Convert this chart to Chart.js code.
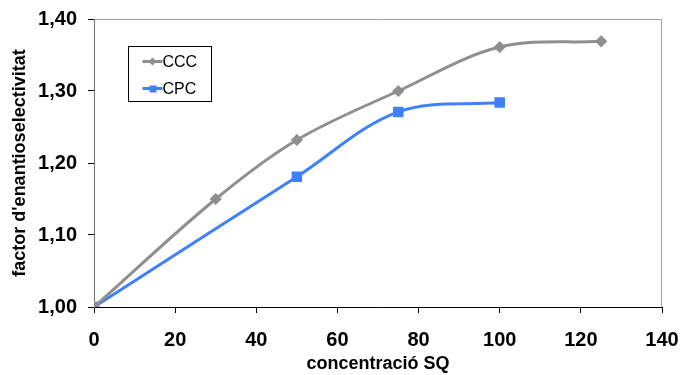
<!DOCTYPE html>
<html><head><meta charset="utf-8">
<script src="https://cdn.jsdelivr.net/npm/chart.js@4.4.0/dist/chart.umd.min.js"></script>
<style>html,body{margin:0;padding:0;background:#fff;}#wrap{width:684px;height:375px;position:relative;}</style>
</head><body><div id="wrap"><canvas id="c" width="684" height="375"></canvas></div>
<script>
const seriesNames = ["CCC", "CPC"];
const cccX = [0, 30, 50, 75, 100, 125];
const cccY = [1.00, 1.15, 1.232, 1.30, 1.361, 1.369];
const cpcX = [0, 50, 75, 100];
const cpcY = [1.00, 1.181, 1.271, 1.284];
const xTicks = [0, 20, 40, 60, 80, 100, 120, 140];
const yTicks = [1.00, 1.10, 1.20, 1.30, 1.40];
const xTitle = "concentració SQ";
const yTitle = "factor d'enantioselectivitat";

const toPts = (xs, ys) => xs.map((x, i) => ({x: x, y: ys[i]}));

const frame = {
  id: 'frame',
  beforeDatasetsDraw(chart) {
    const {ctx, chartArea: a} = chart;
    ctx.save();
    ctx.strokeStyle = '#a0a0a0';
    ctx.lineWidth = 1;
    ctx.beginPath();
    ctx.moveTo(a.left, a.top + 0.5);
    ctx.lineTo(a.right - 0.5, a.top + 0.5);
    ctx.lineTo(a.right - 0.5, a.bottom);
    ctx.stroke();
    ctx.restore();
  }
};

const legendBox = {
  id: 'legendBox',
  afterDraw(chart) {
    const ctx = chart.ctx;
    const bx = 128.5, by = 46.5, bw = 83, bh = 55;
    ctx.save();
    ctx.fillStyle = '#fff';
    ctx.fillRect(bx, by, bw, bh);
    ctx.strokeStyle = '#000';
    ctx.lineWidth = 1;
    ctx.strokeRect(bx, by, bw, bh);
    ctx.font = '16px "Liberation Sans", Arial, sans-serif';
    ctx.textBaseline = 'middle';
    chart.data.datasets.forEach((ds, i) => {
      const y = by + 15 + i * 27;
      ctx.strokeStyle = ds.borderColor;
      ctx.lineWidth = 3;
      ctx.beginPath();
      ctx.moveTo(bx + 14, y);
      ctx.lineTo(bx + 34, y);
      ctx.stroke();
      ctx.fillStyle = ds.borderColor;
      if (ds.pointStyle === 'rectRot') {
        ctx.beginPath();
        ctx.moveTo(bx + 24, y - 4); ctx.lineTo(bx + 28, y); ctx.lineTo(bx + 24, y + 4); ctx.lineTo(bx + 20, y);
        ctx.closePath(); ctx.fill();
      } else {
        ctx.fillRect(bx + 21, y - 3, 7, 7);
      }
      ctx.fillStyle = '#000';
      ctx.fillText(ds.label, bx + 34, y + 1);
    });
    ctx.restore();
  }
};

new Chart(document.getElementById('c'), {
  type: 'scatter',
  data: {
    datasets: [
      { label: seriesNames[0], data: toPts(cccX, cccY), showLine: true, borderColor: '#8f8f8f', backgroundColor: '#8f8f8f',
        borderWidth: 3, pointStyle: 'rectRot', pointRadius: 4, pointHoverRadius: 4, tension: 0.35 },
      { label: seriesNames[1], data: toPts(cpcX, cpcY), showLine: true, borderColor: '#3f80ff', backgroundColor: '#3f80ff',
        borderWidth: 3, pointStyle: 'rect', pointRadius: 5.3, pointHoverRadius: 5.3, tension: 0.35 }
    ]
  },
  options: {
    responsive: false, animation: false, devicePixelRatio: 1,
    layout: { padding: { top: 19, right: 22, left: 0, bottom: 0 } },
    plugins: { legend: { display: false }, tooltip: { enabled: false } },
    scales: {
      x: {
        type: 'linear', min: 0, max: 140,
        afterBuildTicks: s => { s.ticks = xTicks.map(v => ({value: v})); },
        afterFit: s => { s.height = 68; s.paddingLeft = 0; s.paddingRight = 0; },
        grid: { display: true, drawOnChartArea: false, drawTicks: true, tickLength: 6, color: '#000' },
        border: { display: true, color: '#000', width: 1 },
        ticks: { color: '#000', padding: 15, font: { family: '"Liberation Sans", Arial', size: 20, weight: 'bold' }, maxRotation: 0 },
        title: { display: true, text: xTitle, color: '#000', padding: { top: 0, bottom: 0 }, font: { family: '"Liberation Sans", Arial', size: 18, weight: 'bold' } }
      },
      y: {
        type: 'linear', min: 1.0, max: 1.4,
        afterBuildTicks: s => { s.ticks = yTicks.map(v => ({value: v})); },
        afterFit: s => { s.width = 94; s.paddingTop = 0; s.paddingBottom = 0; },
        grid: { display: true, drawOnChartArea: false, drawTicks: true, tickLength: 6, color: '#000' },
        border: { display: true, color: '#707070', width: 1 },
        ticks: { color: '#000', padding: 11, font: { family: '"Liberation Sans", Arial', size: 20, weight: 'bold' },
          callback: v => v.toFixed(2).replace('.', ',') },
        title: { display: true, text: yTitle, color: '#000', padding: { top: 9, bottom: 9 }, font: { family: '"Liberation Sans", Arial', size: 18, weight: 'bold' } }
      }
    }
  },
  plugins: [frame, legendBox]
});
</script></body></html>
